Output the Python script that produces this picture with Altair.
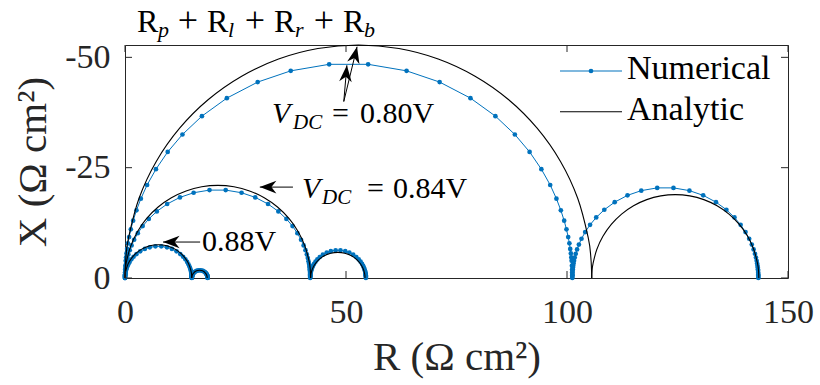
import altair as alt
import pandas as pd

FONT = "Liberation Serif"
BLUE = "#0072BD"
W, H = 663, 233

# ---------------- data (R and -X, Ohm cm^2) ----------------
series_names = ["Numerical", "Analytic"]
x_ticks = [0, 50, 100, 150]
y_ticks = [0, -25, -50]

# Numerical, V_DC = 0.80 V (frequency order: high -> low)
n080_a_R = [0, 0.01, 0.02, 0.04, 0.09, 0.16, 0.23, 0.33, 0.47, 0.66, 0.93, 1.32, 1.84, 2.59, 3.59, 5.00, 7.00, 9.66, 13.00, 17.40, 23.04, 30.02, 37.50, 46.19,
            55.01, 63.70, 71.18, 78.16, 83.80, 88.20, 91.54, 94.20, 96.20, 97.61, 98.61, 99.36, 99.88, 100.27, 100.54, 100.73, 100.87, 100.97, 101.04, 101.11, 101.16, 101.18, 101.19, 101.2]
n080_a_mX = [0, 0.59, 1.27, 1.95, 2.80, 3.90, 4.66, 5.58, 6.60, 7.85, 9.27, 11.02, 12.99, 15.34, 17.97, 21.08, 24.66, 28.57, 32.52, 36.68, 40.76, 44.40, 46.94, 48.42,
             48.42, 46.94, 44.40, 40.76, 36.68, 32.52, 28.57, 24.66, 21.08, 17.97, 15.34, 12.99, 11.02, 9.27, 7.85, 6.60, 5.58, 4.66, 3.90, 2.80, 1.95, 1.27, 0.59, 0]
n080_b_R = [101.2, 101.21, 101.22, 101.24, 101.27, 101.3, 101.34, 101.4, 101.48, 101.59, 101.75, 101.97, 102.28, 102.69, 103.28, 104.11, 105.22, 106.61, 108.44, 110.79, 113.69, 116.8, 120.41,
            124.09, 127.7, 130.81, 133.71, 136.06, 137.89, 139.28, 140.39, 141.22, 141.81, 142.22, 142.53, 142.75, 142.91, 143.02, 143.1, 143.16, 143.2, 143.23, 143.26, 143.28, 143.29, 143.3, 143.3]
n080_b_mX = [0.25, 0.54, 0.82, 1.18, 1.64, 1.96, 2.36, 2.78, 3.31, 3.91, 4.65, 5.48, 6.47, 7.58, 8.89, 10.40, 12.05, 13.72, 15.47, 17.19, 18.73, 19.80, 20.42,
             20.42, 19.80, 18.73, 17.19, 15.47, 13.72, 12.05, 10.40, 8.89, 7.58, 6.47, 5.48, 4.65, 3.91, 3.31, 2.78, 2.36, 1.96, 1.64, 1.18, 0.82, 0.54, 0.25, 0]

# Numerical, V_DC = 0.84 V
n084_a_R = [0, 0, 0.01, 0.02, 0.04, 0.07, 0.10, 0.14, 0.19, 0.27, 0.39, 0.54, 0.76, 1.07, 1.49, 2.07, 2.90, 4.00, 5.38, 7.20, 9.54, 12.43, 15.53, 19.12,
            22.78, 26.37, 29.47, 32.36, 34.70, 36.52, 37.90, 39.00, 39.83, 40.41, 40.83, 41.14, 41.36, 41.51, 41.63, 41.71, 41.76, 41.80, 41.83, 41.86, 41.88, 41.89, 41.9, 41.9]
n084_a_mX = [0, 0.24, 0.52, 0.80, 1.15, 1.60, 1.92, 2.30, 2.71, 3.23, 3.82, 4.53, 5.34, 6.31, 7.39, 8.67, 10.15, 11.76, 13.38, 15.09, 16.77, 18.27, 19.32, 19.92,
             19.92, 19.32, 18.27, 16.77, 15.09, 13.38, 11.76, 10.15, 8.67, 7.39, 6.31, 5.34, 4.53, 3.82, 3.23, 2.71, 2.30, 1.92, 1.60, 1.15, 0.80, 0.52, 0.24, 0]
n084_b_R = [41.9, 41.91, 41.92, 41.93, 41.94, 41.96, 41.98, 42.02, 42.06, 42.13, 42.22, 42.35, 42.52, 42.77, 43.10, 43.52, 44.07, 44.77, 45.64, 46.57, 47.65,
            48.75, 49.83, 50.76, 51.63, 52.33, 52.88, 53.30, 53.63, 53.88, 54.05, 54.18, 54.27, 54.34, 54.38, 54.42, 54.44, 54.46, 54.47, 54.48, 54.49, 54.5, 54.5]
n084_b_mX = [0.25, 0.36, 0.51, 0.60, 0.72, 0.85, 1.02, 1.20, 1.43, 1.68, 1.99, 2.33, 2.73, 3.20, 3.70, 4.22, 4.75, 5.28, 5.76, 6.09, 6.28,
             6.28, 6.09, 5.76, 5.28, 4.75, 4.22, 3.70, 3.20, 2.73, 2.33, 1.99, 1.68, 1.43, 1.20, 1.02, 0.85, 0.72, 0.60, 0.51, 0.36, 0.25, 0]

# Numerical, V_DC = 0.88 V
n088_a_R = [0, 0.01, 0.01, 0.02, 0.03, 0.05, 0.07, 0.10, 0.14, 0.20, 0.27, 0.39, 0.54, 0.75, 1.04, 1.44, 1.94, 2.60, 3.44, 4.48, 5.60, 6.89,
            8.21, 9.50, 10.62, 11.66, 12.50, 13.16, 13.66, 14.06, 14.35, 14.56, 14.71, 14.83, 14.90, 14.96, 15.00, 15.03, 15.05, 15.07, 15.08, 15.09, 15.09, 15.1]
n088_a_mX = [0, 0.29, 0.41, 0.58, 0.69, 0.83, 0.98, 1.16, 1.37, 1.63, 1.92, 2.27, 2.66, 3.12, 3.65, 4.23, 4.82, 5.43, 6.04, 6.58, 6.95, 7.17,
             7.17, 6.95, 6.58, 6.04, 5.43, 4.82, 4.23, 3.65, 3.12, 2.66, 2.27, 1.92, 1.63, 1.37, 1.16, 0.98, 0.83, 0.69, 0.58, 0.41, 0.29, 0]
n088_b_R = [15.1, 15.1, 15.11, 15.11, 15.11, 15.12, 15.12, 15.13, 15.15, 15.17, 15.19, 15.23, 15.28, 15.35, 15.44, 15.56, 15.72, 15.92, 16.17, 16.43, 16.74,
            17.06, 17.37, 17.63, 17.88, 18.08, 18.24, 18.36, 18.45, 18.52, 18.57, 18.61, 18.63, 18.65, 18.67, 18.68, 18.68, 18.69, 18.69, 18.69, 18.7, 18.7, 18.7]
n088_b_mX = [0.07, 0.10, 0.14, 0.17, 0.20, 0.24, 0.28, 0.33, 0.40, 0.47, 0.55, 0.65, 0.76, 0.89, 1.03, 1.17, 1.32, 1.47, 1.60, 1.69, 1.74,
             1.74, 1.69, 1.60, 1.47, 1.32, 1.17, 1.03, 0.89, 0.76, 0.65, 0.55, 0.47, 0.40, 0.33, 0.28, 0.24, 0.20, 0.17, 0.14, 0.10, 0.07, 0]

# Analytic arcs
a080_a_R = [0, 0.20, 0.80, 3.18, 7.07, 12.36, 18.86, 26.40, 34.74, 43.63, 52.8, 61.97, 70.86, 79.2, 86.74, 93.24, 98.53, 102.42, 104.80, 105.40, 105.6]
a080_a_mX = [0, 4.60, 9.17, 18.06, 26.40, 33.94, 40.44, 45.72, 49.62, 52.00, 52.8, 52.00, 49.62, 45.72, 40.44, 33.94, 26.40, 18.06, 9.17, 4.60, 0]
a080_b_R = [105.6, 105.67, 105.89, 106.74, 108.13, 110.02, 112.35, 115.05, 118.04, 121.22, 124.5, 127.78, 130.96, 133.95, 136.65, 138.98, 140.87, 142.26, 143.11, 143.33, 143.4]
a080_b_mX = [0, 1.65, 3.28, 6.46, 9.45, 12.15, 14.48, 16.37, 17.76, 18.61, 18.9, 18.61, 17.76, 16.37, 14.48, 12.15, 9.45, 6.46, 3.28, 1.65, 0]
a084_a_R = [0, 0.08, 0.32, 1.27, 2.81, 4.91, 7.50, 10.5, 13.82, 17.35, 21, 24.65, 28.18, 31.5, 34.5, 37.09, 39.19, 40.73, 41.68, 41.92, 42.0]
a084_a_mX = [0, 1.83, 3.65, 7.18, 10.5, 13.5, 16.09, 18.19, 19.73, 20.68, 21, 20.68, 19.73, 18.19, 16.09, 13.5, 10.5, 7.18, 3.65, 1.83, 0]
a084_b_R = [42.0, 42.02, 42.09, 42.37, 42.82, 43.8, 45.08, 46.56, 48.15, 49.74, 51.23, 52.5, 53.48, 53.93, 54.21, 54.28, 54.3]
a084_b_mX = [0, 0.51, 1.01, 1.98, 2.9, 4.1, 5.02, 5.6, 5.8, 5.6, 5.02, 4.1, 2.9, 1.98, 1.01, 0.51, 0]
a088_a_R = [0, 0.03, 0.11, 0.46, 1.01, 2.21, 3.78, 5.60, 7.55, 9.50, 11.33, 12.89, 14.09, 14.64, 14.99, 15.07, 15.1]
a088_a_mX = [0, 0.66, 1.31, 2.58, 3.78, 5.34, 6.54, 7.29, 7.55, 7.29, 6.54, 5.34, 3.78, 2.58, 1.31, 0.66, 0]
a088_b_R = [15.1, 15.16, 15.33, 15.61, 15.98, 16.4, 16.85, 17.3, 17.73, 18.09, 18.37, 18.54, 18.6]
a088_b_mX = [0, 0.45, 0.875, 1.24, 1.52, 1.69, 1.75, 1.69, 1.52, 1.24, 0.875, 0.45, 0]

# ---------------- tables ----------------
num_rows = []
for name, Rs, mXs in [("0.80V", n080_a_R + n080_b_R, n080_a_mX + n080_b_mX),
                      ("0.84V", n084_a_R + n084_b_R, n084_a_mX + n084_b_mX),
                      ("0.88V", n088_a_R + n088_b_R, n088_a_mX + n088_b_mX)]:
    for i, (r, m) in enumerate(zip(Rs, mXs)):
        num_rows.append({"series": name, "idx": i, "R": r, "X": -m})
num_df = pd.DataFrame(num_rows)

ana_rows = []
for name, Rs, mXs in [("0.80a", a080_a_R, a080_a_mX), ("0.80b", a080_b_R, a080_b_mX),
                      ("0.84a", a084_a_R, a084_a_mX), ("0.84b", a084_b_R, a084_b_mX),
                      ("0.88a", a088_a_R, a088_a_mX), ("0.88b", a088_b_R, a088_b_mX)]:
    for i, (r, m) in enumerate(zip(Rs, mXs)):
        ana_rows.append({"arc": name, "idx": i, "R": r, "X": -m})
ana_df = pd.DataFrame(ana_rows)

xs = alt.Scale(domain=[0, 150], nice=False, zero=False)
ys = alt.Scale(domain=[0, -52.8], nice=False, zero=False)

XA = alt.Axis(values=x_ticks, grid=False, domain=False, ticks=False, tickSize=0,
              labelFlush=False, labelOverlap=False,
              labelFont=FONT, labelFontSize=34, labelColor="#262626", labelPadding=17,
              title="R (Ω cm²)", titleFont=FONT, titleFontSize=41, titleFontWeight="normal",
              titleColor="#262626", titleX=W / 2, titleY=91, titleAlign="center",
              titleBaseline="alphabetic")
YA = alt.Axis(values=y_ticks, grid=False, domain=False, ticks=False, tickSize=0,
              labelFlush=False, labelOverlap=False,
              labelFont=FONT, labelFontSize=34, labelColor="#262626", labelPadding=15,
              labelExpr="datum.value < 0 ? '-' + format(-datum.value, 'd') : '0'",
              title="X (Ω cm²)", titleFont=FONT, titleFontSize=41, titleFontWeight="normal",
              titleColor="#262626", titleX=-80, titleY=H / 2, titleAngle=270,
              titleAlign="center", titleBaseline="alphabetic")


def X(f):
    return alt.X(f, scale=xs, axis=XA)


def Y(f):
    return alt.Y(f, scale=ys, axis=YA)


num_line = alt.Chart(num_df).mark_line(color=BLUE, strokeWidth=1).encode(
    x=X("R:Q"), y=Y("X:Q"), detail="series:N", order="idx:Q")
num_pts = alt.Chart(num_df).mark_circle(color=BLUE, size=22, opacity=1).encode(
    x=X("R:Q"), y=Y("X:Q"))
ana_line = alt.Chart(ana_df).mark_line(color="black", strokeWidth=1.1, interpolate="cardinal").encode(
    x=X("R:Q"), y=Y("X:Q"), detail="arc:N", order="idx:Q")

# inward ticks (MATLAB style)
xt = pd.DataFrame({"R": x_ticks})
yt = pd.DataFrame({"X": y_ticks})
TK = "#262626"
tick_b = alt.Chart(xt).mark_rule(color=TK).encode(x=X("R:Q"), y=alt.value(H), y2=alt.value(H - 7))
tick_t = alt.Chart(xt).mark_rule(color=TK).encode(x=X("R:Q"), y=alt.value(0), y2=alt.value(7))
tick_l = alt.Chart(yt).mark_rule(color=TK).encode(y=Y("X:Q"), x=alt.value(0), x2=alt.value(7))
tick_r = alt.Chart(yt).mark_rule(color=TK).encode(y=Y("X:Q"), x=alt.value(W), x2=alt.value(W - 7))


def txt(s, x, y, size, italic=False, align="left"):
    return alt.Chart(pd.DataFrame({"s": [s]})).mark_text(
        align=align, baseline="alphabetic", font=FONT, fontSize=size,
        fontStyle="italic" if italic else "normal", color="black").encode(
        x=alt.value(x), y=alt.value(y), text="s:N")


HEAD = "M0,0 L-0.38,1 L0,0.7 L0.38,1 Z"


def arrow(r0, x0, r1, x1, ang):
    d = pd.DataFrame({"R": [r0], "X": [x0], "R2": [r1], "X2": [x1]})
    shaft = alt.Chart(d).mark_rule(color="black", strokeWidth=1).encode(
        x=X("R:Q"), y=Y("X:Q"), x2="R2:Q", y2="X2:Q")
    head = alt.Chart(d).mark_point(shape=HEAD, filled=True, color="black", opacity=1,
                                   size=1100, angle=ang, strokeWidth=0).encode(
        x=X("R2:Q"), y=Y("X2:Q"))
    return [shaft, head]


layers = [num_line, num_pts, ana_line, tick_b, tick_t, tick_l, tick_r]

# arrows
layers += arrow(49.5, -40.0, 50.2, -48.2, 5)
layers += arrow(49.5, -40.0, 52.5, -52.4, 13)
layers += arrow(38.0, -20.6, 30.5, -20.6, 270)
layers += arrow(17.0, -8.15, 8.6, -8.15, 270)

# title  R_p + R_l + R_r + R_b
TS, SS, PS = 32, 22, 36
layers += [txt("R", 12, -13, TS), txt("p", 33, -8, SS, True), txt("+", 63, -13, PS, align="center"),
           txt("R", 82, -13, TS), txt("l", 103, -8, SS, True), txt("+", 130, -13, PS, align="center"),
           txt("R", 149, -13, TS), txt("r", 170, -8, SS, True), txt("+", 199, -13, PS, align="center"),
           txt("R", 218, -13, TS), txt("b", 239, -8, SS, True)]

# annotations
AS, AD = 30, 21
layers += [txt("V", 147, 78, AS, True), txt("DC", 168, 84, AD, True), txt("=", 207, 78, AS), txt("0.80V", 235, 78, AS)]
layers += [txt("V", 177, 153, AS, True), txt("DC", 197, 159, AD, True), txt("=", 242, 153, AS), txt("0.84V", 268, 153, AS)]
layers += [txt("0.88V", 77, 206, AS)]

# legend
one = pd.DataFrame({"a": [0]})
layers += [
    alt.Chart(one).mark_rule(color=BLUE, strokeWidth=1.2).encode(x=alt.value(435), x2=alt.value(497), y=alt.value(26)),
    alt.Chart(one).mark_circle(color=BLUE, size=22, opacity=1).encode(x=alt.value(466), y=alt.value(26)),
    txt(series_names[0], 502, 34, 34),
    alt.Chart(one).mark_rule(color="black", strokeWidth=1.1).encode(x=alt.value(435), x2=alt.value(497), y=alt.value(66.7)),
    txt(series_names[1], 502, 75, 34),
]

chart = alt.layer(*layers).properties(
    width=W, height=H,
    autosize=alt.AutoSizeParams(type="none"),
    padding={"left": 125, "top": 45, "right": 32, "bottom": 107},
    background="white",
).configure_view(stroke="#262626", strokeWidth=1)

chart.save("out.html", embed_options={"renderer": "svg", "actions": False})
